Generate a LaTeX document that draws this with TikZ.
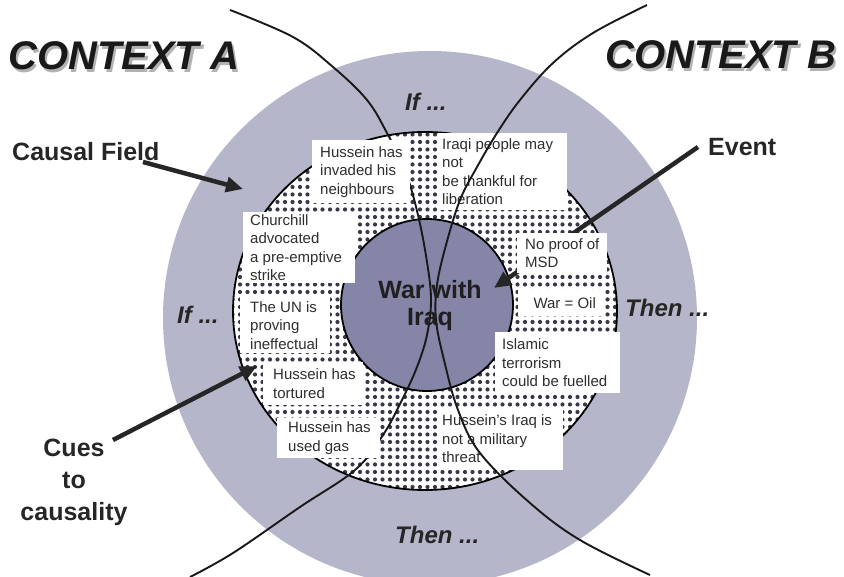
\documentclass[tikz,border=0pt]{standalone}
\usepackage{fontspec}
\setmainfont{Liberation Sans}
\usetikzlibrary{arrows.meta,patterns.meta}
\definecolor{ringgray}{HTML}{B6B6CA}
\definecolor{coregray}{HTML}{8585A8}
\definecolor{dotc}{HTML}{38384A}
\definecolor{txt}{HTML}{2E2E2E}
\newcommand{\shadowtext}[1]{\rlap{\hspace{2.5pt}\raisebox{-2.5pt}{\textcolor{gray!60}{#1}}}#1}
\begin{document}
\begin{tikzpicture}[x=1pt,y=-1pt,
  cbox/.style={fill=white, anchor=north west, inner sep=0pt},
  ctext/.style={anchor=west, align=left, inner sep=0pt, text=txt,
    font=\fontsize{15}{18.5}\selectfont},
  ctx/.style={anchor=west, inner sep=0pt, text=black!90, font=\fontsize{40}{40}\selectfont\bfseries\itshape},
  lbl/.style={anchor=west, inner sep=0pt, text=black!85, font=\fontsize{25}{32}\selectfont\bfseries},
  cond/.style={anchor=west, inner sep=0pt, text=black!85, font=\fontsize{24}{24}\selectfont\bfseries\itshape},
  arcline/.style={line width=1.9pt, black!90},
  bigarrow/.style={line width=4.5pt, black!85, -{Triangle[length=17pt,width=15pt]}}
]
\useasboundingbox (0,0) rectangle (844,577);
\clip (0,0) rectangle (844,577);
% causal field ring
\fill[ringgray] (430,318) circle[radius=267pt];
% dotted inner region
\fill[white] (425,311) ellipse[x radius=192pt, y radius=179pt];
\fill[pattern={Dots[distance=7.5pt,radius=2.1pt]}, pattern color=dotc] (425,311) ellipse[x radius=192pt, y radius=179pt];
\draw[line width=1.8pt] (425,311) ellipse[x radius=192pt, y radius=179pt];
% event core
\filldraw[fill=coregray, draw=black, line width=1.8pt] (427,305) circle[radius=86pt];
% context A boundary
\draw[arcline] plot[smooth, tension=0.6] coordinates {(230,10) (293,37) (333,67) (367,100) (387,133) (405,170) (418,215) (427,262) (431,300) (427,335) (417,367) (402,400) (383,435) (355,470) (300,507) (233,553) (190,577)};
% arrows
\coordinate (cfS) at (143,162); \coordinate (cfT) at (243,189);
\coordinate (evS) at (698,147); \coordinate (evT) at (494,288);
\coordinate (cuS) at (113,440); \coordinate (cuT) at (257,366);
\draw[bigarrow] (cfS) -- (cfT);
\draw[bigarrow] (evS) -- (evT);
\draw[bigarrow] (cuS) -- (cuT);
% boxes
\node[cbox, minimum width=98pt, minimum height=63pt] (b1) at (312,140) {};
\node[ctext] (t1) at ([xshift=8pt]b1.west) {Hussein has\\invaded his\\neighbours};
\node[cbox, minimum width=129pt, minimum height=77pt] (b2) at (438,133) {};
\node[ctext] (t2) at ([xshift=4pt]b2.west) {Iraqi people may\\not\\be thankful for\\liberation};
\node[cbox, minimum width=112pt, minimum height=71pt] (b3) at (243,212) {};
\node[ctext] (t3) at ([xshift=7pt]b3.west) {Churchill\\advocated\\a pre-emptive\\strike};
\node[cbox, minimum width=90pt, minimum height=40pt] (b4) at (517,233) {};
\node[ctext] (t4) at ([xshift=8pt]b4.west) {No proof of\\MSD};
\node[cbox, minimum width=87pt, minimum height=26pt] (b5) at (518,290) {};
\node[ctext, anchor=center] (t5) at ([xshift=3pt]b5.center) {War = Oil};
\node[cbox, minimum width=90pt, minimum height=56pt] (b6) at (240,297) {};
\node[ctext] (t6) at ([xshift=10pt]b6.west) {The UN is\\proving\\ineffectual};
\node[cbox, minimum width=100pt, minimum height=43pt] (b7) at (263,362) {};
\node[ctext] (t7) at ([xshift=10pt]b7.west) {Hussein has\\tortured};
\node[cbox, minimum width=103pt, minimum height=40pt] (b8) at (277,418) {};
\node[ctext] (t8) at ([xshift=11pt]b8.west) {Hussein has\\used gas};
\node[cbox, minimum width=125pt, minimum height=61pt] (b9) at (495,332) {};
\node[ctext] (t9) at ([xshift=7pt]b9.west) {Islamic\\terrorism\\could be fuelled};
\node[cbox, minimum width=125pt, minimum height=63pt] (b10) at (438,407) {};
\node[ctext] (t10) at ([xshift=4pt]b10.west) {Hussein's Iraq is\\not a military\\threat};
% context B boundary
\draw[arcline] plot[smooth, tension=0.6] coordinates {(647,5) (593,33) (553,63) (520,100) (497,133) (477,167) (460,200) (446,245) (437,285) (436,320) (444,360) (458,410) (480,453) (530,503) (580,540) (650,575)};
% event text
\node[anchor=center, align=center, inner sep=0pt, text=black!88, font=\fontsize{25}{27}\selectfont\bfseries] (war) at (430,306) {War with\\Iraq};
% titles
\node[ctx] (ctxA) at (8,57) {\shadowtext{CONTEXT A}};
\node[ctx] (ctxB) at (605,56) {\shadowtext{CONTEXT B}};
% labels
\node[lbl] (cf) at (12,152) {Causal Field};
\node[lbl] (ev) at (708,147) {Event};
\node[lbl, anchor=center, align=center] (cues) at (74,482) {Cues\\to\\causality};
% conditions
\node[cond] (ifT) at (405,102) {If ...};
\node[cond] (ifL) at (177,315) {If ...};
\node[cond] (thR) at (625,308) {Then ...};
\node[cond] (thB) at (395,535) {Then ...};
\end{tikzpicture}
\end{document}
